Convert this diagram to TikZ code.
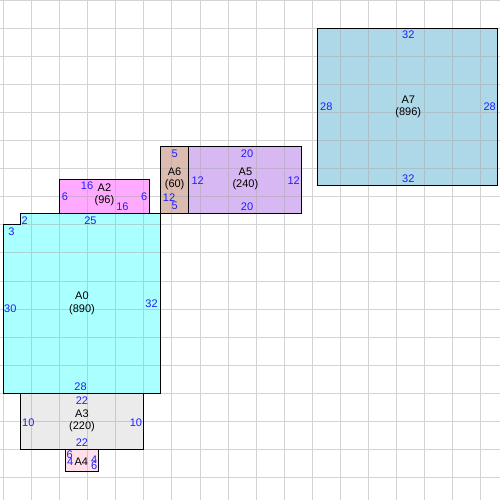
\documentclass[tikz,border=0pt]{standalone}
\usepackage{fontspec}
\setmainfont{Liberation Sans}
\usepackage{xcolor}
\usepackage{tikz}
\usetikzlibrary{arrows}

\definecolor{fillA0}{HTML}{AAFFFF}
\definecolor{fillA2}{HTML}{FFAAFF}
\definecolor{fillA3}{HTML}{EBEBEB}
\definecolor{fillA4}{HTML}{FFE0EA}
\definecolor{fillA5}{HTML}{D8B8F2}
\definecolor{fillA6}{HTML}{DCBCB0}
\definecolor{fillA7}{HTML}{ADD8E8}
\definecolor{lenblue}{HTML}{1E1EFF}
\definecolor{gridgray}{HTML}{A8A8A8}

\begin{document}
\begin{tikzpicture}[x=5.617pt, y=5.617pt, font=\fontsize{11}{12.5}\selectfont,
                    room/.style={draw=black, line width=1pt},
                    len/.style={text=lenblue, inner sep=0pt},
                    tag/.style={align=center, inner sep=0pt}]
                    \useasboundingbox (-0.59,-19) rectangle (88.43,70.02);
                    \fill[white] (-0.59,-19) rectangle (88.43,70.02);

                    % Rooms
                    \fill[fillA0] (0,0) -- (28,0) -- (28,32) -- (3,32) -- (3,30) -- (0,30) -- cycle;
                    \fill[fillA2] (10,32) rectangle (26,38);
                    \fill[fillA3] (3,-10) rectangle (25,0);
                    \fill[fillA4] (11,-14) rectangle (17,-10);
                    \fill[fillA5] (33,32) rectangle (53,44);
                    \fill[fillA6] (28,32) rectangle (33,44);
                    \fill[fillA7] (56,37) rectangle (88,65);

                    % Grid
                    \draw[gridgray, opacity=0.5, line width=0.8pt, step=5] (-0.59,-19) grid (88.43,70.02);

                    % Outlines
                    \draw[room] (0,0) -- (28,0) -- (28,32) -- (3,32) -- (3,30) -- (0,30) -- cycle;
                    \draw[room] (10,32) rectangle (26,38);
                    \draw[room] (3,-10) rectangle (25,0);
                    \draw[room] (11,-14) rectangle (17,-10);
                    \draw[room] (33,32) rectangle (53,44);
                    \draw[room] (28,32) rectangle (33,44);
                    \draw[room] (56,37) rectangle (88,65);

                    % Names
                    \node[tag] (nameA0) at (14,16) {A0\\(890)};
                    \node[tag] (nameA2) at (18,35.3) {A2\\(96)};
                    \node[tag] (nameA3) at (14,-4.9) {A3\\(220)};
                    \node[tag] (nameA4) at (13.9,-12.1) {A4};
                    \node[tag] (nameA5) at (43.1,38.2) {A5\\(240)};
                    \node[tag] (nameA6) at (30.5,38.2) {A6\\(60)};
                    \node[tag] (nameA7) at (72.1,51) {A7\\(896)};

                    % Lengths
                    \node[len] (a0top) at (15.5,30.7) {25};
                    \node[len] (a0right) at (26.4,15.9) {32};
                    \node[len] (a0bottom) at (13.75,1.25) {28};
                    \node[len] (a0left) at (1.25,15) {30};
                    \node[len] (a0stepv) at (3.8,30.8) {2};
                    \node[len] (a0steph) at (1.45,28.7) {3};

                    \node[len] (a2top) at (14.9,36.9) {16};
                    \node[len] (a2bottom) at (21.2,33.2) {16};
                    \node[len] (a2left) at (10.95,34.95) {6};
                    \node[len] (a2right) at (25.1,34.95) {6};

                    \node[len] (a6top) at (30.5,42.7) {5};
                    \node[len] (a6left) at (29.5,34.8) {12};
                    \node[len] (a6bottom) at (30.5,33.3) {5};

                    \node[len] (a5top) at (43.4,42.7) {20};
                    \node[len] (a5left) at (34.6,37.9) {12};
                    \node[len] (a5right) at (51.7,37.9) {12};
                    \node[len] (a5bottom) at (43.4,33.3) {20};

                    \node[len] (a7top) at (72.1,63.8) {32};
                    \node[len] (a7left) at (57.5,51) {28};
                    \node[len] (a7right) at (86.6,51) {28};
                    \node[len] (a7bottom) at (72.1,38.2) {32};

                    \node[len] (a3top) at (14,-1.3) {22};
                    \node[len] (a3left) at (4.45,-5.2) {10};
                    \node[len] (a3right) at (23.6,-5.2) {10};
                    \node[len] (a3bottom) at (14,-8.8) {22};

                    \node[len] (a4top) at (11.8,-11) {6};
                    \node[len] (a4left) at (11.9,-12.1) {4};
                    \node[len] (a4right) at (16.2,-11.9) {4};
                    \node[len] (a4bottom) at (16.2,-12.9) {6};
                \end{tikzpicture}
\end{document}
